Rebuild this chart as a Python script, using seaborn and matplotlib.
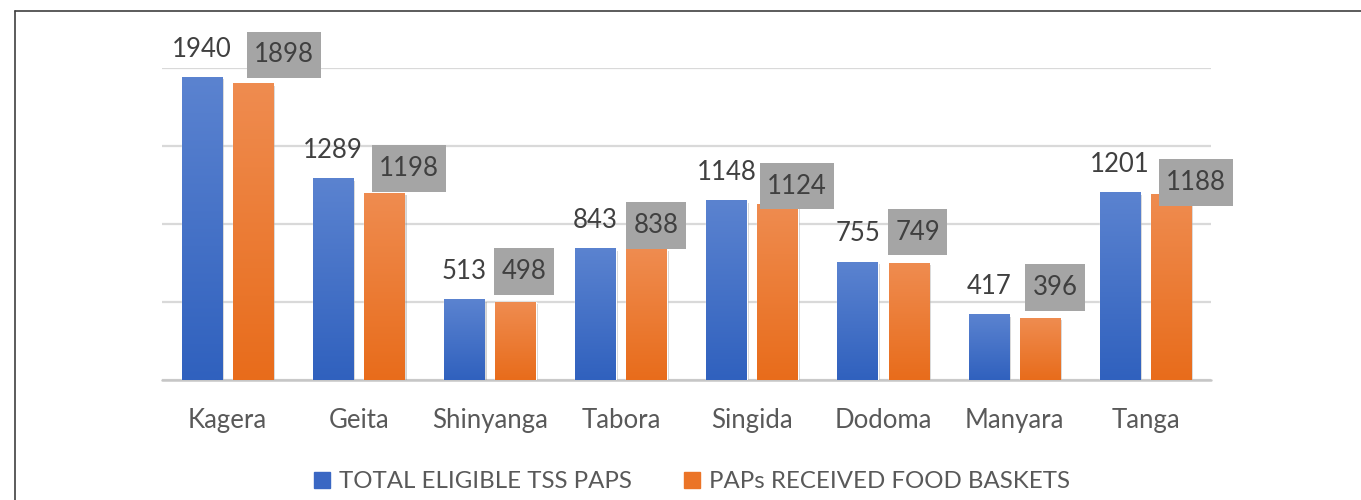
import matplotlib
matplotlib.use('Agg')
import matplotlib.pyplot as plt
import matplotlib.patheffects as pe
from matplotlib.colors import LinearSegmentedColormap
from matplotlib.lines import Line2D
import seaborn as sns
import numpy as np
import pandas as pd

regions = ['Kagera', 'Geita', 'Shinyanga', 'Tabora', 'Singida', 'Dodoma', 'Manyara', 'Tanga']
eligible = [1940, 1289, 513, 843, 1148, 755, 417, 1201]
received = [1898, 1198, 498, 838, 1124, 749, 396, 1188]
series = ['TOTAL ELIGIBLE TSS PAPS', 'PAPs RECEIVED FOOD BASKETS']
yticks = [0, 500, 1000, 1500, 2000]

# where the grey boxed labels sit in the original (px right / px above bar top)
box_dx = [31, 25, 8.5, 9.5, 19, 9, 15, 25]
box_dy = [29, 24.5, 31, 24, 18.5, 31, 30.5, 12]

df = pd.DataFrame({
    'region': regions * 2,
    'value': eligible + received,
    'series': [series[0]] * len(regions) + [series[1]] * len(regions),
})

sns.set_style('white')
plt.rcParams['font.family'] = ['Lato', 'DejaVu Sans']

fig = plt.figure(figsize=(13.61, 5), dpi=100)
ax = fig.add_axes([162 / 1361, 0.24, 1049 / 1361, 0.624])

sns.barplot(data=df, x='region', y='value', hue='series', palette=['#4472C4', '#ED7D31'],
            width=0.78, gap=0.21, ax=ax, legend=False, zorder=2)

# Excel-like vertical gradient on each bar, with a soft shadow underneath
grads = [('#3061BE', '#5B83D0'), ('#E86C1B', '#EF8C50')]
ramp = np.linspace(0, 1, 256).reshape(-1, 1)
for cont, (lo, hi) in zip(ax.containers, grads):
    cmap = LinearSegmentedColormap.from_list('grad', [lo, hi])
    for bar in cont:
        bar.set_path_effects([pe.SimplePatchShadow(offset=(1.5, -1.5), shadow_rgbFace='#808080', alpha=0.35),
                              pe.Normal()])
        x0, w, h = bar.get_x(), bar.get_width(), bar.get_height()
        ax.imshow(ramp, cmap=cmap, origin='lower', aspect='auto', interpolation='bilinear',
                  extent=[x0, x0 + w, 0, h], zorder=3)

ax.set_xlim(-0.5, len(regions) - 0.5)
ax.set_ylim(0, 2000)
ax.set_yticks(yticks)
ax.yaxis.grid(True, color='#D9D9D9', lw=1.6)
ax.set_axisbelow(True)
ax.axhline(0, color='#C6C6C6', lw=1.8, zorder=1, clip_on=False)
for s in ax.spines.values():
    s.set_visible(False)
ax.tick_params(axis='y', left=False, labelleft=False)
ax.tick_params(axis='x', length=0, pad=20, labelsize=18.5, labelcolor='#595959')
ax.set_xlabel('')
ax.set_ylabel('')

# value labels
for bar in ax.containers[0]:
    ax.annotate(f'{bar.get_height():.0f}', (bar.get_x() + bar.get_width() / 2, bar.get_height()),
                xytext=(0, 15), textcoords='offset points', ha='center', va='baseline',
                fontsize=18.5, color='#404040', zorder=5)
for bar, dx, dy in zip(ax.containers[1], box_dx, box_dy):
    ax.annotate(f'{bar.get_height():.0f}', (bar.get_x() + bar.get_width() / 2, bar.get_height()),
                xytext=(dx * 0.72, dy * 0.72), textcoords='offset points', ha='center', va='center',
                fontsize=18.5, color='#404040', zorder=6,
                bbox=dict(boxstyle='square,pad=0.28', mutation_aspect=1.5, fc='#A5A5A5', ec='none'))

handles = [Line2D([], [], marker='s', ls='none', ms=11, mfc=c, mec=c) for c in ['#3A67C3', '#EB7427']]
fig.legend(handles, series, loc='center', bbox_to_anchor=(0.508, 0.036), ncol=2, frameon=False,
           fontsize=17.3, handlelength=0.8, handletextpad=0.3, columnspacing=2.1, labelcolor='#595959')

# outer frame (only the left and top edges fall inside the picture)
fig.add_artist(Line2D([15 / 1361, 15 / 1361], [0, 1 - 11 / 500], transform=fig.transFigure, color='#3F3F3F', lw=1.2))
fig.add_artist(Line2D([15 / 1361, 1], [1 - 11 / 500, 1 - 11 / 500], transform=fig.transFigure, color='#3F3F3F', lw=1.2))

fig.savefig('out.png', dpi=100)
plt.close(fig)
